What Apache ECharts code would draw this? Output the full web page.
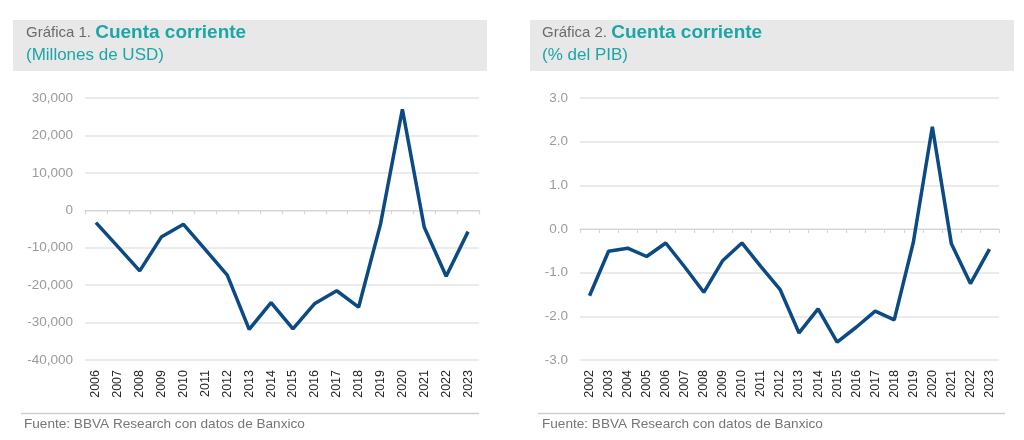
<!DOCTYPE html>
<html>
<head>
<meta charset="utf-8">
<script src="https://cdn.jsdelivr.net/npm/echarts@6/dist/echarts.min.js"></script>
<style>
html,body{margin:0;padding:0;background:#fff;}
#c{width:1024px;height:440px;}
</style>
</head>
<body>
<div id="c"></div>
<script>
// ---- Data ----
var years1 = ['2006','2007','2008','2009','2010','2011','2012','2013','2014','2015','2016','2017','2018','2019','2020','2021','2022','2023'];
var cuentaUSD = [-3300,-9700,-16200,-7050,-3750,-10500,-17300,-31800,-24700,-31700,-24900,-21500,-25900,-3700,27000,-4550,-17600,-5700];

var years2 = ['2002','2003','2004','2005','2006','2007','2008','2009','2010','2011','2012','2013','2014','2015','2016','2017','2018','2019','2020','2021','2022','2023'];
var cuentaPIB = [-1.53,-0.51,-0.44,-0.63,-0.32,-0.87,-1.45,-0.72,-0.32,-0.86,-1.38,-2.38,-1.83,-2.59,-2.25,-1.88,-2.08,-0.31,2.34,-0.34,-1.25,-0.46];

var yTicks1 = {min:-40000, max:30000, interval:10000};
var yTicks2 = {min:-3, max:3, interval:1};

var title1 = {pre:'Gráfica 1. ', main:'Cuenta corriente', sub:'(Millones de USD)'};
var title2 = {pre:'Gráfica 2. ', main:'Cuenta corriente', sub:'(% del PIB)'};
var fuente = 'Fuente: BBVA Research con datos de Banxico';

// ---- Styles ----
var FONT = '"Liberation Sans", Arial, sans-serif';
var TEAL = '#1ba6a7';
var NAVY = '#0b4a82';
var GRIDC = '#e4e4e4';

var chart = echarts.init(document.getElementById('c'), null, {renderer:'canvas'});

function fmtThousands(v){
  var s = Math.abs(v).toString().replace(/\B(?=(\d{3})+(?!\d))/g, ',');
  return (v < 0 ? '-' : '') + s;
}

function header(x0, w, t, tx){
  return [
    {type:'rect', shape:{x:x0, y:20, width:w, height:51}, style:{fill:'#e8e8e8'}, silent:true},
    {type:'text', x:tx, y:33, style:{
      text:'{a|' + t.pre + '}{b|' + t.main + '}',
      verticalAlign:'middle',
      rich:{
        a:{fontFamily:FONT, fontSize:15, fill:'#6b6b6b', verticalAlign:'middle'},
        b:{fontFamily:FONT, fontSize:19, fontWeight:'bold', fill:TEAL, verticalAlign:'middle'}
      }
    }},
    {type:'text', x:tx, y:55.5, style:{text:t.sub, fontFamily:FONT, fontSize:17, fill:TEAL, verticalAlign:'middle'}}
  ];
}

function footer(x1, x2, tx){
  return [
    {type:'line', shape:{x1:x1, y1:413.5, x2:x2, y2:413.5}, style:{stroke:'#cfcfcf', lineWidth:1.5}},
    {type:'text', x:tx, y:424.5, style:{text:fuente, fontFamily:FONT, fontSize:13.6, fill:'#767676', verticalAlign:'middle'}}
  ];
}

function xAxesFor(gridIndex, cats){
  return [
    { // labels at bottom
      type:'category', gridIndex:gridIndex, data:cats, position:'bottom',
      axisLine:{show:false, onZero:false}, axisTick:{show:false},
      axisLabel:{rotate:90, margin:10, fontFamily:FONT, fontSize:12.5, color:'#262626', interval:0}
    },
    { // axis line at zero
      type:'category', gridIndex:gridIndex, data:cats, position:'bottom',
      axisLine:{show:true, onZero:true, lineStyle:{color:'#d6d6d6', width:1.2}},
      axisTick:{show:true, length:4, interval:0, lineStyle:{color:'#d6d6d6', width:1.2}},
      axisLabel:{show:false}
    }
  ];
}

function yAxisFor(gridIndex, t, fmt){
  return {
    type:'value', gridIndex:gridIndex, min:t.min, max:t.max, interval:t.interval,
    axisLine:{show:false}, axisTick:{show:false},
    splitLine:{show:true, lineStyle:{color:GRIDC, width:1.5}},
    axisLabel:{margin:12, fontFamily:FONT, fontSize:13.5, color:'#9b9b9b', formatter:fmt}
  };
}

var xa1 = xAxesFor(0, years1), xa2 = xAxesFor(1, years2);

chart.setOption({
  animation:false,
  backgroundColor:'#ffffff',
  grid:[
    {left:85, right:545, top:98, bottom:80},
    {left:580, right:25, top:98, bottom:80}
  ],
  xAxis:[xa1[0], xa1[1], xa2[0], xa2[1]],
  yAxis:[
    yAxisFor(0, yTicks1, function(v){return fmtThousands(v);}),
    yAxisFor(1, yTicks2, function(v){return v.toFixed(1);})
  ],
  series:[
    {type:'line', xAxisIndex:0, yAxisIndex:0, data:cuentaUSD, showSymbol:false, symbol:'none',
     lineStyle:{color:NAVY, width:3.5}, itemStyle:{color:NAVY}},
    {type:'line', xAxisIndex:2, yAxisIndex:1, data:cuentaPIB, showSymbol:false, symbol:'none',
     lineStyle:{color:NAVY, width:3.5}, itemStyle:{color:NAVY}}
  ],
  graphic:[].concat(
    header(13, 474, title1, 26),
    header(530, 484, title2, 542),
    footer(21, 479, 24),
    footer(538, 1005, 542)
  )
});
</script>
</body>
</html>
